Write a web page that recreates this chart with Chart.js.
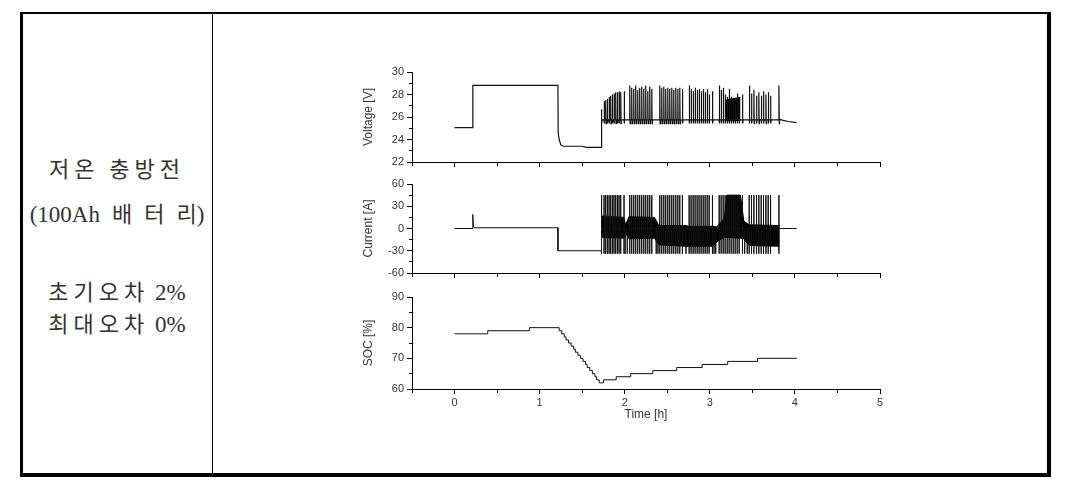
<!DOCTYPE html>
<html>
<head>
<meta charset="utf-8">
<script src="https://cdn.jsdelivr.net/npm/chart.js@4.4.0/dist/chart.umd.min.js"></script>
<style>
body { margin:0; background:#fff; width:1074px; height:485px; position:relative; overflow:hidden; }
#frame { position:absolute; left:20px; top:12px; width:1031px; height:465px; box-sizing:border-box;
  border-left:3px solid #000; border-top:2px solid #000; border-right:4px solid #000; border-bottom:4px solid #000; }
#divider { position:absolute; left:212px; top:13px; width:1px; height:461px; background:#000; }
.lbl { position:absolute; left:17px; width:200px; text-align:center;
  font-family:"Liberation Serif","Noto Sans CJK KR",serif; font-size:23px;
  color:#333; line-height:24px; white-space:nowrap; }
.ko { font-family:"Noto Sans CJK KR",sans-serif; font-size:22px; letter-spacing:5px; }
.wide { letter-spacing:12px; margin-left:12px; }
canvas { position:absolute; }
</style>
</head>
<body>
<div id="frame"></div>
<div id="divider"></div>
<div class="lbl" style="top:155px"><span class="ko">저온 충방전</span></div>
<div class="lbl" style="top:200px">(100Ah<span class="ko wide">배터</span><span class="ko" style="letter-spacing:0">리</span>)</div>
<div class="lbl" style="top:278px"><span class="ko">초기오차</span> 2%</div>
<div class="lbl" style="top:310px"><span class="ko">최대오차</span> 0%</div>

<canvas id="vChart" width="545" height="110" style="left:355px;top:62px;width:545px;height:110px"></canvas>
<canvas id="iChart" width="545" height="109" style="left:355px;top:174px;width:545px;height:109px"></canvas>
<canvas id="sChart" width="545" height="140" style="left:355px;top:287px;width:545px;height:140px"></canvas>

<script>
// voltage [V] outside the pulse period
var voltTime  = [0, 0.215, 0.215, 1.215, 1.218, 1.23, 1.25, 1.28, 1.50, 1.55, 1.725, 1.725];
var voltValue = [25.05, 25.05, 28.82, 28.82, 24.6, 24.0, 23.5, 23.4, 23.4, 23.3, 23.3, 25.0];
var voltTailTime  = [3.82, 3.86, 3.92, 4.02];
var voltTailValue = [25.8, 25.7, 25.6, 25.5];
var vBase = 25.75, vDip = 25.42;

// charge pulses: time [h] and voltage peak [V]
var spikeTime = [
  1.728, 1.757, 1.776, 1.796, 1.816, 1.835, 1.855, 1.874, 1.894, 1.914, 1.933, 1.953, 1.992,
  2.059, 2.082, 2.106, 2.129, 2.153, 2.176, 2.200, 2.224, 2.247, 2.271, 2.294, 2.318,
  2.412, 2.435, 2.459, 2.482, 2.506, 2.529, 2.553, 2.576, 2.600, 2.624, 2.647, 2.678,
  2.757, 2.780, 2.804, 2.827, 2.851, 2.874, 2.898, 2.922, 2.945, 2.969, 2.992, 3.031,
  3.110, 3.133, 3.157, 3.180, 3.204, 3.227, 3.251, 3.275, 3.298, 3.322, 3.345, 3.384,
  3.463, 3.490, 3.518, 3.549, 3.576, 3.604, 3.631, 3.659, 3.686, 3.714, 3.812];
var spikePeak = [
  26.7, 27.4, 27.5, 27.6, 27.8, 27.9, 28.0, 28.1, 28.2, 28.2, 28.3, 28.2, 28.3,
  28.8, 28.6, 28.5, 28.8, 28.4, 28.6, 28.7, 28.5, 28.8, 28.3, 28.7, 28.5,
  28.8, 28.6, 28.7, 28.5, 28.6, 28.5, 28.6, 28.4, 28.6, 28.5, 28.6, 28.5,
  28.8, 28.5, 28.3, 28.6, 28.4, 28.5, 28.3, 28.5, 28.2, 28.5, 28.0, 28.3,
  28.8, 28.4, 28.6, 28.0, 27.8, 28.5, 27.8, 27.6, 27.7, 28.1, 27.7, 28.0,
  28.8, 28.1, 28.4, 27.9, 28.2, 27.9, 28.3, 28.0, 28.2, 27.9, 28.8];
// dense block in the voltage trace
var vBlockTime = [3.18, 3.36];
var vBlockHigh = [27.5, 27.75];
var vBlockLow  = [25.7, 25.7];

// current [A]
var currTime  = [0, 0.215, 0.215, 0.222, 0.23, 1.215, 1.215, 1.725];
var currValue = [0, 0, 19, 2, 1, 1, -30, -30];
var currTailTime  = [3.82, 4.02];
var currTailValue = [0, 0];
var iPulseHigh = 45, iPulseLow = -34;
var iExtraTime = [2.005, 2.03, 2.37, 2.39, 2.72, 3.05, 3.07, 3.41, 3.44];
// envelope of the dense current oscillation
var iBandTime = [1.725, 1.74, 1.99, 2.01, 2.05, 2.35, 2.40, 2.72, 2.75, 3.04, 3.08, 3.17, 3.20, 3.36, 3.40, 3.46, 3.82];
var iBandHigh = [8, 17, 15, 5, 16, 15, 4, 4, 3, 3, 2, 14, 45, 45, 10, 5, 4];
var iBandLow  = [-4, -12, -13, -6, -14, -13, -22, -24, -24, -24, -18, -12, -12, -13, -14, -23, -24];

// SOC [%] (steps, value holds until next time)
var socTime  = [0, 0.39, 0.88, 1.23, 1.26, 1.29, 1.31, 1.34, 1.37, 1.40, 1.42, 1.45, 1.48, 1.51, 1.54,
                1.56, 1.59, 1.62, 1.65, 1.67, 1.70, 1.75, 1.90, 2.07, 2.33, 2.61, 2.91, 3.21, 3.56, 4.02];
var socValue = [78, 79, 80, 79, 78, 77, 76, 75, 74, 73, 72, 71, 70, 69, 68,
                67, 66, 65, 64, 63, 62, 63, 64, 65, 66, 67, 68, 69, 70, 70];

Chart.defaults.font.family = 'Liberation Sans';

function pairs(xs, ys) {
  var out = [];
  for (var i = 0; i < xs.length; i++) out.push({x: xs[i], y: ys[i]});
  return out;
}

function voltagePoints() {
  var pts = pairs(voltTime, voltValue);
  for (var i = 0; i < spikeTime.length; i++) {
    var t = spikeTime[i];
    pts.push({x: t, y: vBase});
    pts.push({x: t, y: spikePeak[i]});
    pts.push({x: t + 0.004, y: vDip});
    pts.push({x: t + 0.008, y: vBase});
  }
  return pts.concat(pairs(voltTailTime, voltTailValue));
}

function currentPoints() {
  var pts = pairs(currTime, currValue);
  var times = spikeTime.concat(iExtraTime).sort(function(a, b) { return a - b; });
  for (var i = 0; i < times.length; i++) {
    var t = times[i];
    var top = iExtraTime.indexOf(t) >= 0 ? 0 : iPulseHigh;
    pts.push({x: t, y: 0});
    pts.push({x: t, y: top});
    pts.push({x: t, y: iPulseLow});
    pts.push({x: t, y: 0});
  }
  return pts.concat(pairs(currTailTime, currTailValue));
}

var tickFont = {family: 'Liberation Sans', size: 11};
var titleFont = {family: 'Liberation Sans', size: 12};

function xAxis(showLabels, h) {
  return {
    type: 'linear', min: -0.5, max: 5,
    border: {color: '#000', width: 1},
    grid: {
      drawOnChartArea: false, tickLength: 5, tickColor: '#000',
      tickBorderDash: function(c) { return Number.isInteger(c.tick.value) ? [] : [3, 10]; }
    },
    ticks: {
      stepSize: 0.5, autoSkip: false, maxRotation: 0, padding: 2, color: '#333', font: tickFont,
      callback: function(v) { return showLabels && Number.isInteger(v) && v >= 0 ? v : ''; }
    },
    title: {display: showLabels, text: 'Time [h]', color: '#333', font: titleFont, padding: {top: 2, bottom: 5}},
    afterFit: function(s) { s.height = h; }
  };
}

function yAxis(min, max, step, major, title) {
  return {
    min: min, max: max,
    border: {color: '#000', width: 1},
    grid: {
      drawOnChartArea: false, tickLength: 5, tickColor: '#000',
      tickBorderDash: function(c) { return c.tick.value % major === 0 ? [] : [0, 2, 10]; }
    },
    ticks: {
      stepSize: step, autoSkip: false, padding: 3, color: '#333', font: tickFont,
      callback: function(v) { return v % major === 0 ? v : ''; }
    },
    title: {display: true, text: title, color: '#333', font: titleFont, padding: {top: 6, bottom: 0}},
    afterFit: function(s) { s.width = 57; }
  };
}

function makeChart(id, datasets, y, x) {
  return new Chart(document.getElementById(id), {
    type: 'line',
    data: {datasets: datasets},
    options: {
      responsive: false,
      animation: false,
      devicePixelRatio: 1,
      layout: {padding: {top: 10, right: 20, left: 0, bottom: 0}},
      plugins: {legend: {display: false}, tooltip: {enabled: false}},
      elements: {point: {radius: 0}, line: {borderWidth: 1, tension: 0}},
      scales: {x: x, y: y}
    }
  });
}

var black = '#000';

makeChart('vChart', [
  {data: voltagePoints(), borderColor: '#111', borderWidth: 1.2, fill: false},
  {data: pairs(vBlockTime, vBlockHigh), borderColor: black, fill: false},
  {data: pairs(vBlockTime, vBlockLow), borderColor: black, backgroundColor: black, fill: '-1'}
], yAxis(22, 30, 1, 2, 'Voltage [V]'), xAxis(false, 10));

makeChart('iChart', [
  {data: currentPoints(), borderColor: '#111', fill: false},
  {data: pairs(iBandTime, iBandHigh), borderColor: black, fill: false},
  {data: pairs(iBandTime, iBandLow), borderColor: black, backgroundColor: black, fill: '-1'}
], yAxis(-60, 60, 15, 30, 'Current [A]'), xAxis(false, 10));

makeChart('sChart', [
  {data: pairs(socTime, socValue), borderColor: '#111', stepped: 'before', fill: false}
], yAxis(60, 90, 5, 10, 'SOC [%]'), xAxis(true, 38));
</script>
</body>
</html>
